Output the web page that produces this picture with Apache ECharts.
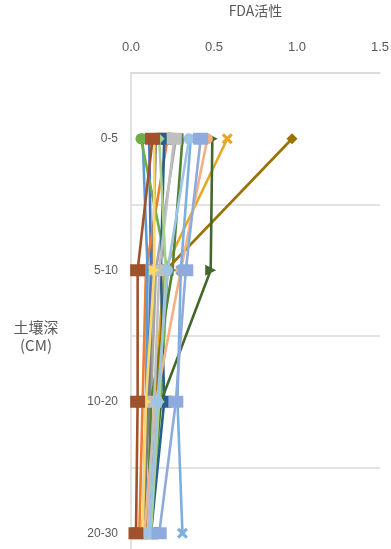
<!DOCTYPE html>
<html><head><meta charset="utf-8">
<script src="https://cdn.jsdelivr.net/npm/echarts@6/dist/echarts.min.js"></script>
<style>html,body{margin:0;padding:0;background:#fff}#c{width:391px;height:549px}</style>
</head><body><div id="c"></div>
<script>
const depths = ['0-5', '5-10', '10-20', '20-30'];
const xTicks = [0, 0.5, 1.0, 1.5];
const xTitle = 'FDA活性';
const yTitle = '土壤深\n(CM)';

const s1 = [0.11, 0.12, 0.10, 0.08];
const s2 = [0.22, 0.09, 0.07, 0.05];
const s3 = [0.27, 0.15, 0.12, 0.10];
const s4 = [0.58, 0.20, 0.14, 0.10];
const s5 = [0.07, 0.10, 0.09, 0.07];
const s6 = [0.06, 0.22, 0.18, 0.12];
const s7 = [0.31, 0.25, 0.12, 0.10];
const s9 = [0.15, 0.13, 0.11, 0.07];
const s10 = [0.97, 0.21, 0.15, 0.09];
const s11 = [0.20, 0.18, 0.20, 0.12];
const s12 = [0.49, 0.48, 0.18, 0.10];
const s14 = [0.46, 0.30, 0.15, 0.08];
const s15 = [0.26, 0.17, 0.14, 0.10];
const s16 = [0.14, 0.14, 0.09, 0.07];
const s17 = [0.36, 0.30, 0.28, 0.31];
const s18 = [0.17, 0.21, 0.17, 0.12];
const s19 = [0.35, 0.22, 0.16, 0.11];
const s8 = [0.13, 0.04, 0.04, 0.03];
const s13 = [0.42, 0.33, 0.27, 0.17];
const seriesValues = [s1, s2, s3, s4, s5, s6, s7, s9, s10, s11, s12, s14, s15, s16, s17, s18, s19, s8, s13];

const X = 'path://M2,0L5,3L8,0L10,2L7,5L10,8L8,10L5,7L2,10L0,8L3,5L0,2Z';
const PLUS = 'path://M4,0H6V4H10V6H6V10H4V6H0V4H4Z';
const styles = [
  ['#4472C4', 'diamond'], ['#ED7D31', 'rect'], ['#A5A5A5', 'triangle'], ['#E6A822', X],
  ['#5B9BD5', 'circle'], ['#70AD47', 'circle'], ['#548235', PLUS],
  ['#7F7F7F', 'diamond'], ['#997300', 'diamond'], ['#255E91', 'rect'], ['#43682B', 'triangle'],
  ['#F4B183', 'circle'], ['#BFBFBF', 'rect'], ['#FFD966', 'triangle'], ['#7CAFDD', X],
  ['#A9D18E', 'diamond'], ['#9DC3E6', 'circle'], ['#A0522D', 'rect'], ['#8FAADC', 'rect']
];

const series = seriesValues.map((vals, i) => ({
  type: 'line',
  data: vals.map((v, j) => [v, depths[j]]),
  lineStyle: { width: 2.6, color: styles[i][0] },
  itemStyle: { color: styles[i][0] },
  symbol: styles[i][1],
  symbolSize: styles[i][1] === 'rect' ? [15, 12] : 11,
  symbolRotate: styles[i][1] === 'triangle' ? -90 : 0,
  showSymbol: true,
  animation: false,
  z: 2 + i
}));

const chart = echarts.init(document.getElementById('c'));
chart.setOption({
  animation: false,
  grid: { left: 131, right: 11, top: 73, height: 526, outerBoundsMode: 'none', containLabel: false },
  xAxis: {
    type: 'value', position: 'top', min: xTicks[0], max: xTicks[xTicks.length - 1], interval: 0.5,
    name: xTitle, nameLocation: 'middle', nameGap: 55,
    nameTextStyle: { color: '#595959', fontSize: 14, fontFamily: 'Noto Sans CJK SC' },
    axisLine: { show: true, lineStyle: { color: '#D9D9D9', width: 1.5 } }, axisTick: { show: false },
    splitLine: { show: false },
    axisLabel: { color: '#595959', fontSize: 13, margin: 19, fontFamily: 'Liberation Sans',
      formatter: v => v.toFixed(1) }
  },
  yAxis: {
    type: 'category', data: depths, inverse: true, boundaryGap: true,
    name: yTitle, nameLocation: 'middle', nameGap: 95, nameRotate: 0,
    nameTextStyle: { color: '#595959', fontSize: 15, lineHeight: 18, align: 'center', fontFamily: 'Noto Sans CJK SC' },
    axisLine: { show: true, lineStyle: { color: '#D9D9D9', width: 1.5 } },
    axisTick: { show: false },
    splitLine: { show: true, lineStyle: { color: '#D9D9D9', width: 1.5 } },
    axisLabel: { color: '#595959', fontSize: 12, margin: 13, fontFamily: 'Liberation Sans' }
  },
  series: series
});
</script>
</body></html>
